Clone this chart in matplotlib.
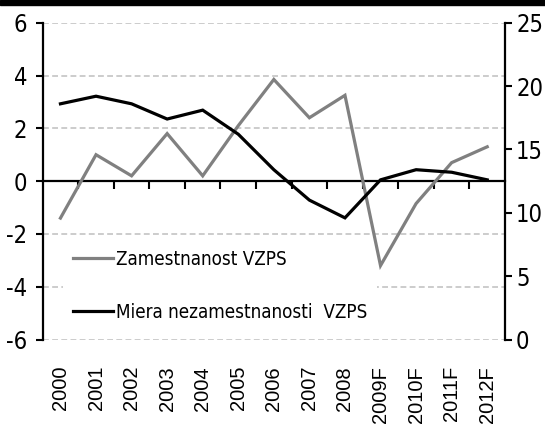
import matplotlib
matplotlib.use("Agg")
import matplotlib.pyplot as plt
from matplotlib.patches import Rectangle
from matplotlib import font_manager

# data
years = ["2000", "2001", "2002", "2003", "2004", "2005", "2006",
         "2007", "2008", "2009F", "2010F", "2011F", "2012F"]
employment = [-1.4, 1.0, 0.2, 1.8, 0.2, 2.1, 3.85, 2.4, 3.25, -3.2, -0.85, 0.7, 1.3]
unemployment = [18.6, 19.2, 18.6, 17.4, 18.1, 16.2, 13.4, 11.0, 9.6, 12.6, 13.4, 13.2, 12.6]

plt.rcParams["axes.unicode_minus"] = False

# a regular condensed face for the narrow labels (Arial Narrow look-alike)
narrow = font_manager.FontProperties(family="Liberation Sans")
for f in font_manager.fontManager.ttflist:
    narrowish = "Narrow" in f.fname or "Condensed" in f.fname
    regular_w = f.weight in (400, "normal", "regular", "book")
    if narrowish and regular_w and f.style == "normal" and "Oblique" not in f.fname:
        narrow = font_manager.FontProperties(fname=f.fname)
        break

fig = plt.figure(figsize=(5.45, 4.26), dpi=100)
ax = fig.add_axes([0.0783, 0.203, 0.8483, 0.7437])
ax2 = ax.twinx()

x = list(range(len(years)))

# primary axis: employment growth
l1, = ax.plot(x, employment, color="#808080", lw=2.3, solid_joinstyle="miter",
              label="Zamestnanost VZPS", zorder=6)
ax.set_xlim(-0.5, len(years) - 0.5)
ax.set_ylim(-6, 6)
ax.set_yticks(range(-6, 7, 2))
ax.yaxis.grid(True, color="#C4C4C4", lw=1.2, ls=(0, (3.5, 2)))
ax.set_axisbelow(True)

# x axis drawn at zero with ticks between categories
ax.spines["bottom"].set_position(("data", 0))
ax.spines["bottom"].set_linewidth(1.6)
ax.spines["top"].set_visible(False)
ax.spines["right"].set_visible(False)
ax.spines["left"].set_linewidth(1.6)
ax.set_xticks([i + 0.5 for i in x[:-1]])
ax.tick_params(axis="x", direction="out", length=6, width=1.5, labelbottom=False)
ax.tick_params(axis="y", direction="out", length=5, width=1.5, pad=6)
for t in ax.get_yticklabels():
    t.set_fontproperties(narrow)
    t.set_fontsize(17)

# year labels at the bottom of the plot area
sec = ax.secondary_xaxis(0.0)
sec.set_xticks(x, years, rotation=90)
sec.tick_params(length=0, pad=19, labelsize=14.5, labelfontfamily="Liberation Sans")
sec.spines["bottom"].set_visible(False)

# secondary axis: unemployment rate
l2, = ax2.plot(x, unemployment, color="black", lw=2.3, solid_joinstyle="miter",
               label="Miera nezamestnanosti  VZPS")
ax2.set_ylim(0, 25)
ax2.set_yticks(range(0, 26, 5))
for s in ["top", "left", "bottom"]:
    ax2.spines[s].set_visible(False)
ax2.spines["right"].set_linewidth(1.6)
ax2.tick_params(axis="y", direction="out", length=5, width=1.5, pad=3)
for t in ax2.get_yticklabels():
    t.set_fontproperties(narrow)
    t.set_fontsize(17)

# legend sits in the lower axes so the grey line can pass over its box
legprop = narrow.copy()
legprop.set_size(13.5)
leg = ax.legend(handles=[l1, l2], loc="upper left", bbox_to_anchor=(0.044, 0.315),
                frameon=True, fancybox=False, facecolor="white", edgecolor="none",
                framealpha=1, borderpad=0.55, borderaxespad=0, handlelength=2.1,
                handletextpad=0.15, labelspacing=1.8, prop=legprop)

# black band at the very top
fig.patches.append(Rectangle((0, 1 - 5 / 426), 1, 5 / 426, transform=fig.transFigure,
                             color="black", zorder=10))

fig.savefig("out.png", dpi=100)
